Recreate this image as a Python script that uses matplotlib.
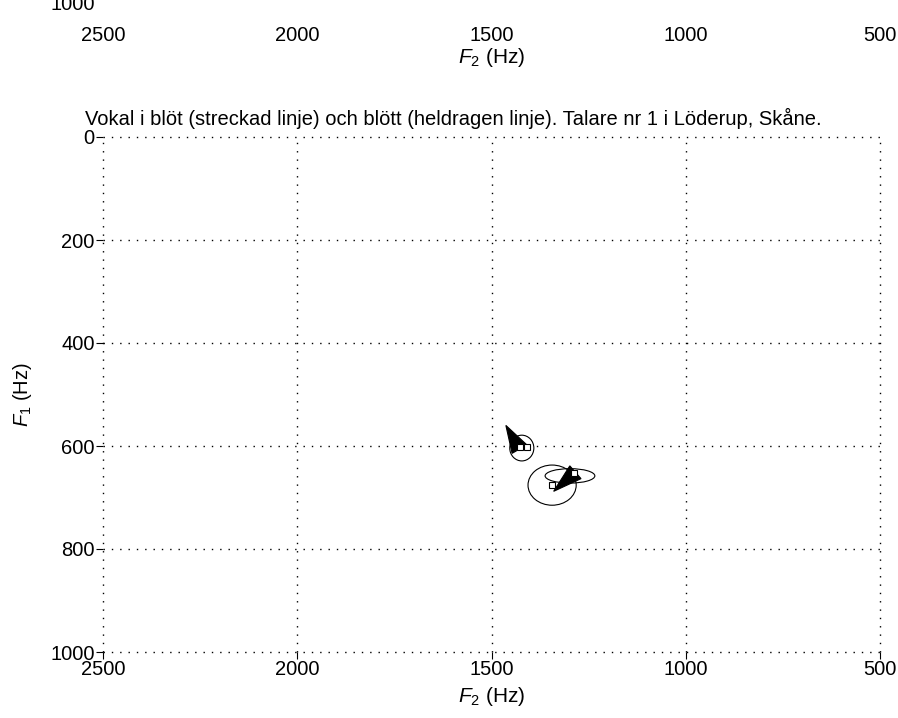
import matplotlib
matplotlib.use('Agg')
import numpy as np
import matplotlib.pyplot as plt
from matplotlib.patches import Ellipse, Polygon
from matplotlib.transforms import IdentityTransform

plt.rcParams['font.family'] = ['Liberation Sans', 'DejaVu Sans']
plt.rcParams['mathtext.fontset'] = 'custom'
plt.rcParams['mathtext.rm'] = 'Liberation Sans'
plt.rcParams['mathtext.it'] = 'Liberation Sans:italic'

# formantdata (Hz), F2 på x-axeln, F1 på y-axeln
vokaler = ['blöt', 'blött']
f2_medel = [1422, 1344]
f1_medel = [604, 676]
f2_std = [31, 62]
f1_std = [25, 39]
# andra ellipsen för blött
f2_ellips2 = 1298
f1_ellips2 = 658
f2_ellips2_std = 64
f1_ellips2_std = 14
# pilar: start -> spets
pil_f2_start = [1428, 1284]
pil_f1_start = [606, 651]
pil_f2_slut = [1463, 1340]
pil_f1_slut = [560, 688]
# små rutor (mätpunkter)
ruta_f2 = [1427, 1409, 1288, 1344]
ruta_f1 = [602, 602, 652, 676]

xticks = [2500, 2000, 1500, 1000, 500]
yticks = [0, 200, 400, 600, 800, 1000]
titel = 'Vokal i blöt (streckad linje) och blött (heldragen linje). Talare nr 1 i Löderup, Skåne.'
xetikett = '$F_2$ (Hz)'
yetikett = '$F_1$ (Hz)'

W, H = 898, 718
fs = 14.5
fig = plt.figure(figsize=(W / 100, H / 100), dpi=100)

vx, bx = 103 / W, 777 / W
ax = fig.add_axes([vx, (H - 652) / H, bx, 515 / H])
ax.set_xlim(2500, 500)
ax.set_ylim(1000, 0)
ax.set_xticks(xticks)
ax.set_yticks(yticks)
ax.tick_params(direction='out', length=5, width=0.8, labelsize=fs, pad=1)
for s in ax.spines.values():
    s.set_visible(False)
ax.grid(True, color='black', linestyle=(0, (1, 5)), linewidth=1)
for g in ax.get_xgridlines() + ax.get_ygridlines():
    g.set_clip_on(False)
ax.set_xlabel(xetikett, fontsize=fs + 0.5, labelpad=4)
ax.set_ylabel(yetikett, fontsize=fs, labelpad=12)

for i in range(len(vokaler)):
    ax.add_patch(Ellipse((f2_medel[i], f1_medel[i]), 2 * f2_std[i], 2 * f1_std[i],
                         fill=False, edgecolor='black', linewidth=0.8))
ax.add_patch(Ellipse((f2_ellips2, f1_ellips2), 2 * f2_ellips2_std, 2 * f1_ellips2_std,
                     fill=False, edgecolor='black', linewidth=0.8))

# pilarna ritas som fyllda trianglar i pixelkoordinater
for i in range(len(vokaler)):
    p0 = ax.transData.transform((pil_f2_start[i], pil_f1_start[i]))
    p1 = ax.transData.transform((pil_f2_slut[i], pil_f1_slut[i]))
    d = (p1 - p0) / np.hypot(*(p1 - p0))
    n = np.array([-d[1], d[0]])
    tri = [p1, p0 + 8.5 * n, p0 - 8.5 * n]
    ax.add_patch(Polygon(tri, closed=True, facecolor='black', edgecolor='black',
                         linewidth=0.8, transform=IdentityTransform()))

ax.plot(ruta_f2, ruta_f1, 's', ms=4, mfc='white', mec='black', mew=0.8, zorder=5)

# föregående diagram (avskuret överst)
ax0 = fig.add_axes([vx, (H - 2) / H, bx, 515 / H])
ax0.set_xlim(2500, 500)
ax0.set_ylim(1000, 0)
ax0.set_xticks(xticks)
ax0.set_yticks([1000])
ax0.tick_params(axis='y', length=0, labelsize=fs, pad=6)
ax0.tick_params(axis='x', length=0, labelsize=fs, pad=17)
for s in ax0.spines.values():
    s.set_visible(False)
ax0.set_xlabel(xetikett, fontsize=fs + 0.5, labelpad=1)

fig.text(85 / W, 1 - 118 / H, titel, fontsize=fs, ha='left', va='center')

fig.savefig('out.png', dpi=100)
